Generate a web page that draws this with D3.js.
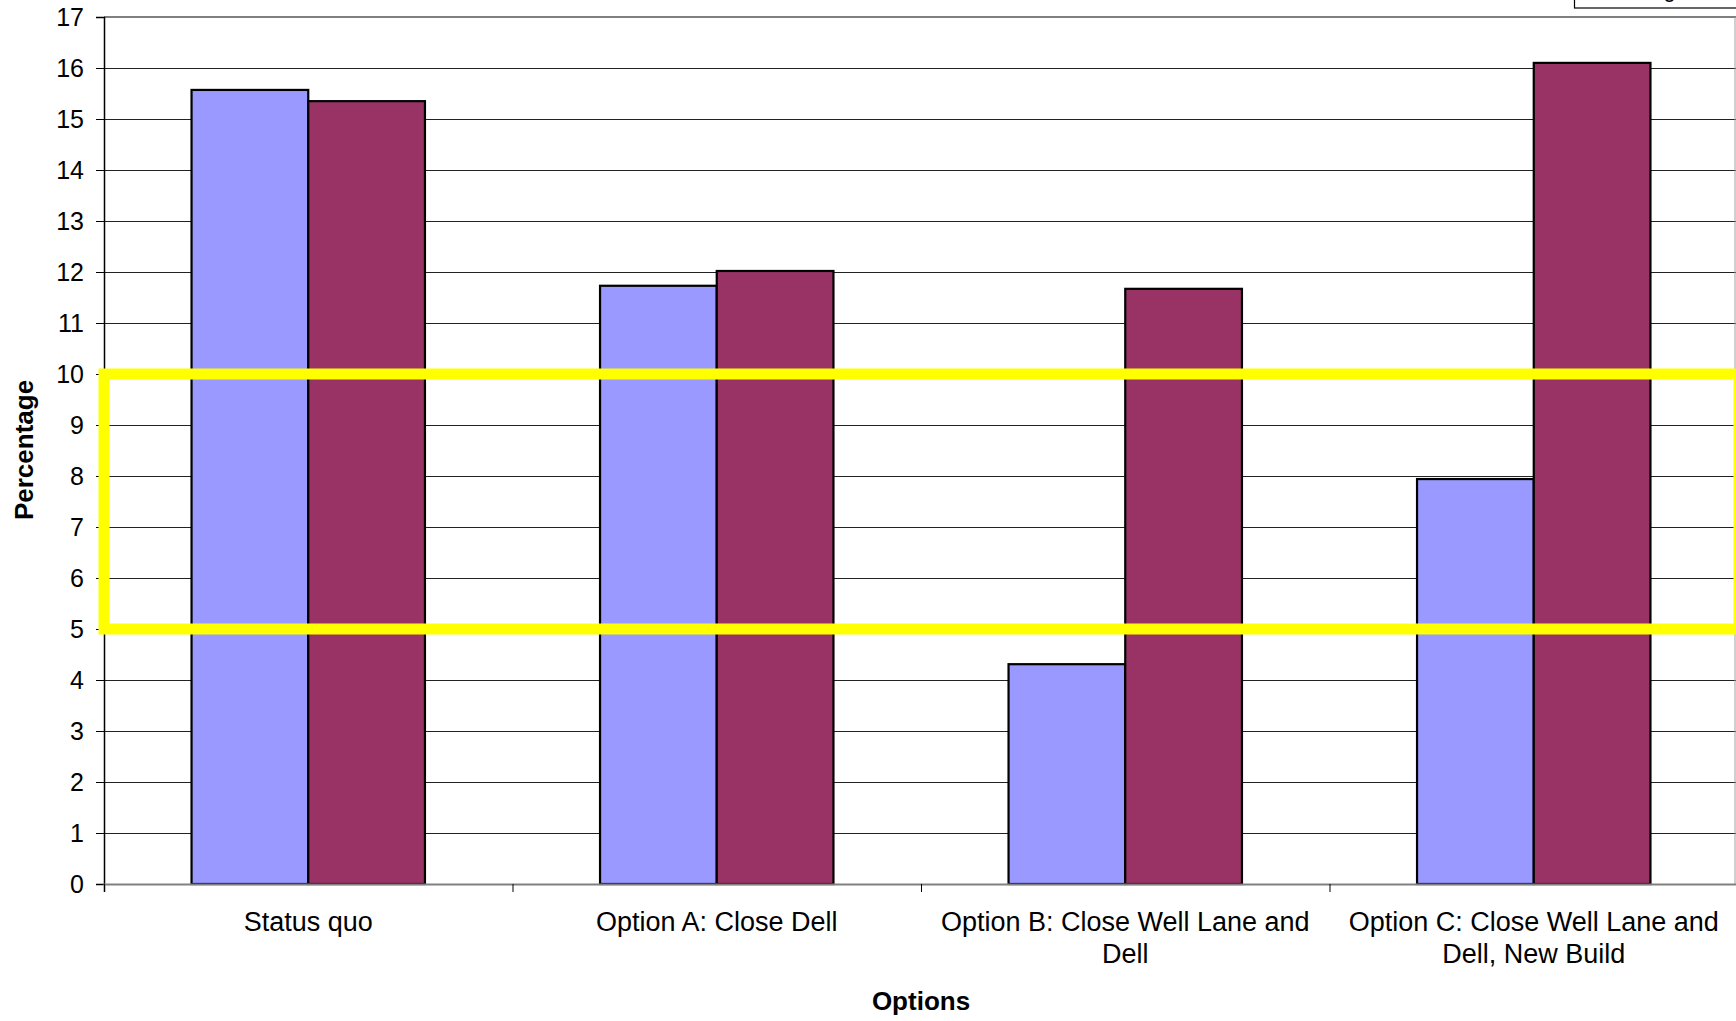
<!DOCTYPE html>
<html>
<head>
<meta charset="utf-8">
<script src="https://cdn.jsdelivr.net/npm/d3@7"></script>
<style>
  html, body { margin: 0; padding: 0; background: #fff; }
  svg { display: block; font-family: "Liberation Sans", Arial, sans-serif; }
</style>
</head>
<body>
<svg id="chart" width="1736" height="1021"></svg>
<script>
const categories = [
  "Status quo",
  "Option A: Close Dell",
  "Option B: Close Well Lane and Dell",
  "Option C: Close Well Lane and Dell, New Build"
];
const seriesNames = ["Series 1", "Series 2"];
const series1 = [15.57, 11.73, 4.31, 7.94];
const series2 = [15.35, 12.02, 11.67, 16.1];
const yTicks = [0,1,2,3,4,5,6,7,8,9,10,11,12,13,14,15,16,17];
const highlightBand = [5, 10];
const legendText = "Percentage";
const colors = ["#9999FF", "#993366"];

(function () {
const svg = d3.select("#chart");
const pLeft = 104, pRight = 1738, pTop = 17, pBottom = 884;

const y = d3.scaleLinear().domain([0, 17]).range([pBottom, pTop]);
const x0 = d3.scaleBand().domain(categories).range([pLeft, pRight])
  .paddingInner(0.4286).paddingOuter(0.2143);
const x1 = d3.scaleBand().domain(seriesNames).range([0, x0.bandwidth()]);
const xb = d3.scaleLinear().domain([0, categories.length]).range([pLeft, pRight]);

// gridlines
svg.append("g").selectAll("line").data(yTicks.filter(d => d > 0 && d < 17)).join("line")
  .attr("x1", pLeft).attr("x2", 1736)
  .attr("y1", d => Math.round(y(d)) + 0.5).attr("y2", d => Math.round(y(d)) + 0.5)
  .attr("stroke", "#222").attr("stroke-width", 1);

// plot border top and right
svg.append("line").attr("x1", pLeft).attr("x2", 1736).attr("y1", y(17)).attr("y2", y(17))
  .attr("stroke", "#808080").attr("stroke-width", 2);
svg.append("line").attr("x1", 1735).attr("x2", 1735).attr("y1", y(17)).attr("y2", y(0))
  .attr("stroke", "#a0a0a0").attr("stroke-width", 1);

// bars
const data = categories.map((c, i) => ({c, vals: [series1[i], series2[i]]}));
const groups = svg.append("g").selectAll("g").data(data).join("g")
  .attr("transform", d => `translate(${x0(d.c)},0)`);
groups.selectAll("rect").data(d => d.vals.map((v, j) => ({v, s: seriesNames[j], j}))).join("rect")
  .attr("x", d => x1(d.s))
  .attr("width", x1.bandwidth())
  .attr("y", d => y(d.v))
  .attr("height", d => y(0) - y(d.v))
  .attr("fill", d => colors[d.j])
  .attr("stroke", "#000").attr("stroke-width", 2.2);

// y axis
const yAxis = svg.append("g").attr("transform", `translate(${pLeft},0)`)
  .call(d3.axisLeft(y).tickValues(yTicks).tickSize(8).tickPadding(12).tickFormat(d3.format("d")));
yAxis.select(".domain").attr("stroke", "#000").attr("stroke-width", 1.5);
yAxis.selectAll(".tick line").attr("stroke", "#000");
yAxis.selectAll("text").attr("font-size", 25).attr("fill", "#000")
  .attr("font-family", "'Liberation Sans', Arial, sans-serif");

// x axis
const xAxis = svg.append("g").attr("transform", `translate(0,${pBottom})`)
  .call(d3.axisBottom(xb).tickValues(d3.range(categories.length + 1)).tickSize(8).tickFormat(""));
xAxis.select(".domain").attr("stroke", "#808080").attr("stroke-width", 2);
xAxis.selectAll(".tick line").attr("stroke", "#000");

// category labels with wrap
const maxW = 380;
categories.forEach(c => {
  const cx = x0(c) + x0.bandwidth() / 2;
  const t = svg.append("text").attr("x", cx).attr("y", 931)
    .attr("text-anchor", "middle").attr("font-size", 27).attr("fill", "#000");
  const words = c.split(" ");
  let line = [];
  let ts = t.append("tspan").attr("x", cx).attr("dy", 0);
  words.forEach(w => {
    line.push(w);
    ts.text(line.join(" "));
    if (ts.node().getComputedTextLength() > maxW && line.length > 1) {
      line.pop();
      ts.text(line.join(" "));
      line = [w];
      ts = t.append("tspan").attr("x", cx).attr("dy", 32).text(w);
    }
  });
});

// axis titles
svg.append("text").attr("x", (pLeft + pRight) / 2).attr("y", 1010)
  .attr("text-anchor", "middle").attr("font-size", 26).attr("font-weight", "bold").text("Options");
svg.append("text").attr("transform", "translate(33,450) rotate(-90)")
  .attr("text-anchor", "middle").attr("font-size", 26).attr("font-weight", "bold").text("Percentage");

// highlight rectangle
svg.append("rect")
  .attr("x", pLeft).attr("y", y(highlightBand[1]))
  .attr("width", 1739 - pLeft).attr("height", y(highlightBand[0]) - y(highlightBand[1]))
  .attr("fill", "none").attr("stroke", "#FFFF00").attr("stroke-width", 11);

// legend (cut off at top)
svg.append("rect").attr("x", 1574.5).attr("y", -40).attr("width", 200).attr("height", 48)
  .attr("fill", "#fff").attr("stroke", "#000").attr("stroke-width", 1.2);
svg.append("text").attr("x", 1688).attr("y", -3).attr("text-anchor", "end")
  .attr("font-size", 22).attr("fill", "#000").text(legendText);
})();
</script>
</body>
</html>
